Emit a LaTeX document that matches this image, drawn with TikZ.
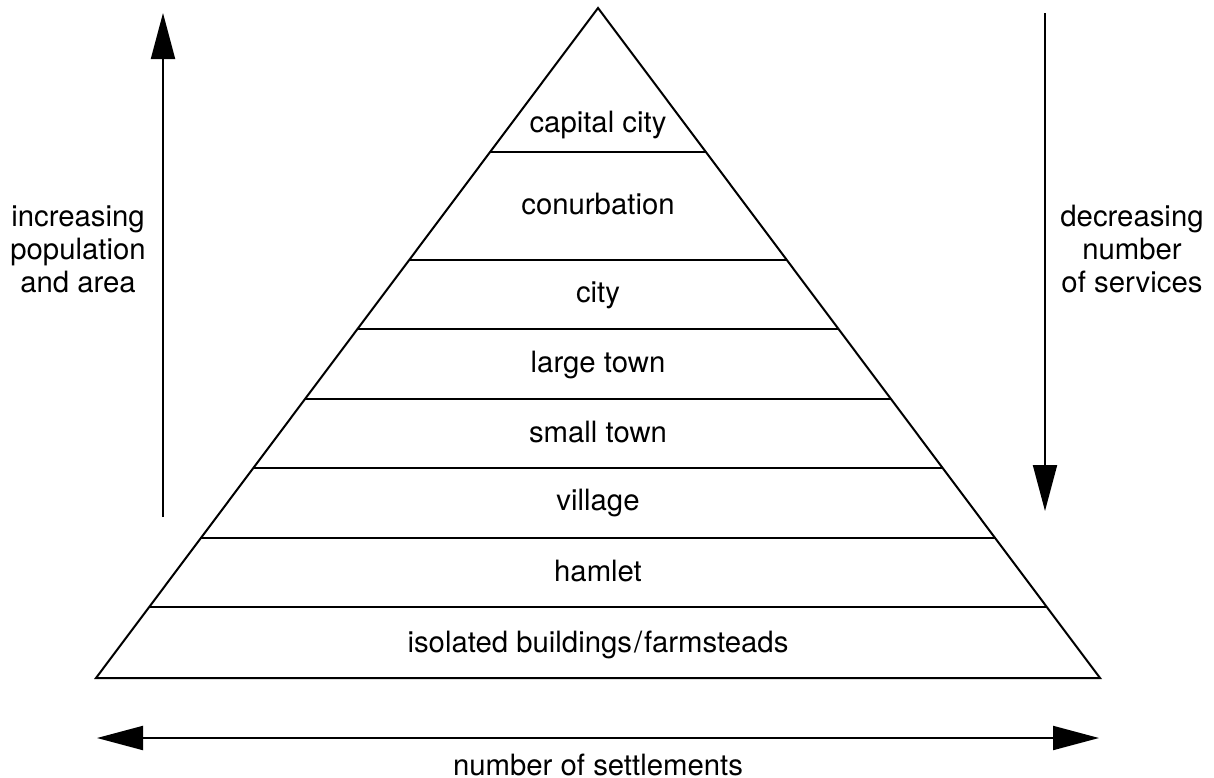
\documentclass[tikz,border=0pt]{standalone}
\usepackage{fontspec}
\setmainfont{TeX Gyre Heros}
\usetikzlibrary{arrows.meta,calc}
\tikzstyle{layer} = [font=\fontsize{22}{26}\selectfont, inner sep=0pt, anchor=base]
\tikzstyle{sidelabel} = [font=\fontsize{22}{24.4}\selectfont, align=center, inner sep=0pt, anchor=base]
\tikzstyle{bigarrow} = [line width=1.5pt, -{Triangle[length=34.5pt,width=18pt]}]

\begin{document}
\begin{tikzpicture}[x=0.75pt, y=-0.75pt, line width=1.5pt]
\useasboundingbox (0,0) rectangle (1214,778);
% pyramid
\coordinate (top) at (598,8);
\coordinate (bl) at (96,678);
\coordinate (br) at (1100,678);
\draw[line join=miter] (top) -- (bl) -- (br) -- cycle;
\foreach \t in {0.785,0.624,0.521,0.416,0.313,0.209,0.106}
    \draw ($(bl)!\t!(top)$) -- ($(br)!\t!(top)$);
% layers
\node [layer] (capital) at (598,132) {capital city};
\node [layer] (conurb) at (598,214) {conurbation};
\node [layer] (city) at (598,302) {city};
\node [layer] (ltown) at (598,372) {large town};
\node [layer] (stown) at (598,442) {small town};
\node [layer] (village) at (598,510) {village};
\node [layer] (hamlet) at (598,581) {hamlet};
\node [layer] (isolated) at (598,652) {isolated buildings\kern1.5pt/\kern1.5pt farmsteads};
% side arrows
\coordinate (popfrom) at (163,517);
\coordinate (popto) at (163,13);
\draw [bigarrow] (popfrom) -- (popto);
\node [sidelabel] (poplabel) at (78,292) {increasing\\population\\and area};
\coordinate (servfrom) at (1045,13);
\coordinate (servto) at (1045,511);
\draw [bigarrow] (servfrom) -- (servto);
\node [sidelabel] (servlabel) at (1132,292) {decreasing\\number\\of services};
% bottom arrow
\coordinate (numleft) at (97,738);
\coordinate (numright) at (1099,738);
\draw [bigarrow, {Triangle[length=34.5pt,width=18pt]}-{Triangle[length=34.5pt,width=18pt]}] (numleft) -- (numright);
\node [layer] (numlabel) at (598,775) {number of settlements};
\end{tikzpicture}
\end{document}
